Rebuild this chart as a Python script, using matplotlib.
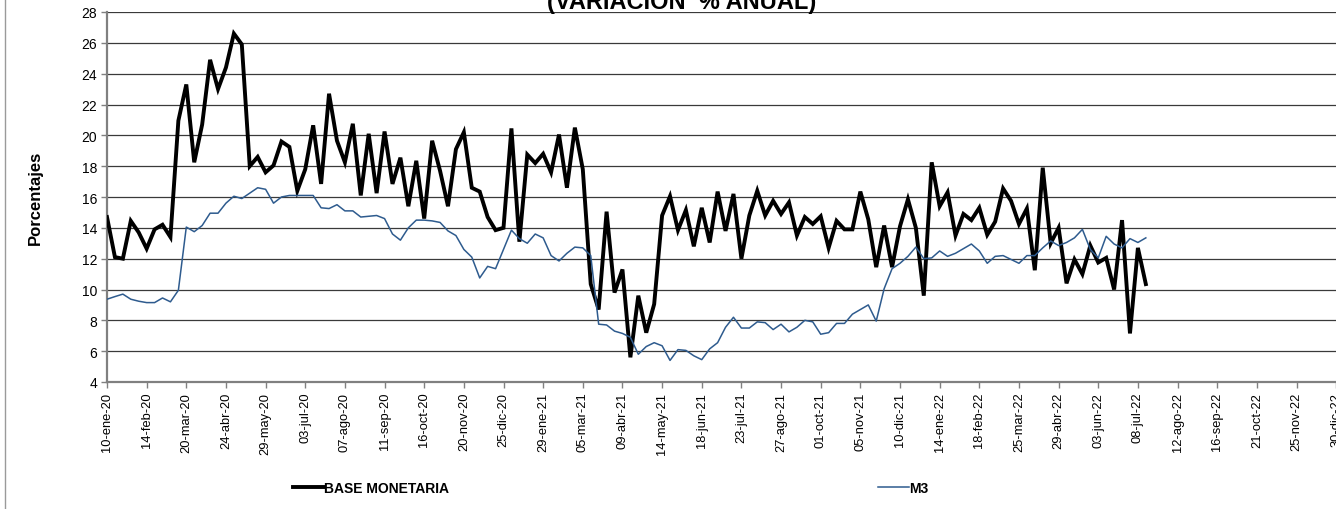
import matplotlib
matplotlib.use("Agg")
import matplotlib.pyplot as plt
import numpy as np
from matplotlib.lines import Line2D

plt.rcParams['font.family'] = ['Liberation Sans', 'DejaVu Sans']

tick_labels = ["10-ene-20", "14-feb-20", "20-mar-20", "24-abr-20", "29-may-20", "03-jul-20",
               "07-ago-20", "11-sep-20", "16-oct-20", "20-nov-20", "25-dic-20", "29-ene-21",
               "05-mar-21", "09-abr-21", "14-may-21", "18-jun-21", "23-jul-21", "27-ago-21",
               "01-oct-21", "05-nov-21", "10-dic-21", "14-ene-22", "18-feb-22", "25-mar-22",
               "29-abr-22", "03-jun-22", "08-jul-22", "12-ago-22", "16-sep-22", "21-oct-22",
               "25-nov-22", "30-dic-22"]

base_monetaria = [
    14.7, 12.1, 12.0, 14.45, 13.7, 12.65, 13.9, 14.2, 13.4, 20.95,
    23.3, 18.25, 20.7, 24.9, 23.0, 24.4, 26.6, 25.9, 18.0, 18.6,
    17.6, 18.05, 19.6, 19.25, 16.4, 17.8, 20.65, 16.85, 22.7, 19.65,
    18.25, 20.75, 16.1, 20.1, 16.25, 20.25, 16.85, 18.55, 15.4, 18.35,
    14.6, 19.65, 17.7, 15.4, 19.1, 20.2, 16.6, 16.35, 14.7, 13.85,
    14.0, 20.45, 13.1, 18.75, 18.2, 18.8, 17.6, 20.05, 16.6, 20.5,
    17.8, 10.35, 8.7, 15.05, 9.8, 11.3, 5.6, 9.6, 7.2, 9.05,
    14.8, 16.05, 13.85, 15.15, 12.8, 15.3, 13.05, 16.35, 13.8, 16.2,
    12.0, 14.8, 16.4, 14.8, 15.75, 14.9, 15.65, 13.5, 14.7, 14.25,
    14.75, 12.7, 14.45, 13.9, 13.9, 16.35, 14.55, 11.45, 14.15, 11.45,
    14.1, 15.85, 14.0, 9.6, 18.25, 15.4, 16.3, 13.5, 14.9, 14.5,
    15.3, 13.55, 14.4, 16.55, 15.75, 14.25, 15.25, 11.25, 17.9, 13.0,
    14.0, 10.4, 11.95, 11.0, 12.85, 11.75, 12.05, 10.0, 14.5, 7.15,
    12.7, 10.35]

m3 = [
    9.37, 9.54, 9.7, 9.37, 9.24, 9.15, 9.15, 9.45, 9.2, 9.95,
    14.05, 13.75, 14.15, 14.95, 14.95, 15.6, 16.05, 15.9, 16.25, 16.6,
    16.5, 15.6, 16.0, 16.1, 16.1, 16.1, 16.1, 15.3, 15.25, 15.5,
    15.1, 15.1, 14.7, 14.75, 14.8, 14.6, 13.6, 13.2, 14.0, 14.5,
    14.5, 14.45, 14.35, 13.8, 13.5, 12.6, 12.1, 10.75, 11.5, 11.35,
    12.6, 13.85, 13.3, 13.0, 13.6, 13.35, 12.2, 11.85, 12.35, 12.75,
    12.7, 12.2, 7.75, 7.7, 7.3, 7.15, 6.9, 5.8, 6.3, 6.55,
    6.35, 5.4, 6.1, 6.05, 5.7, 5.45, 6.15, 6.55, 7.55, 8.2,
    7.5, 7.5, 7.9, 7.85, 7.4, 7.75, 7.25, 7.55, 8.0, 7.9,
    7.1, 7.2, 7.8, 7.8, 8.4, 8.7, 9.0, 7.95, 10.05, 11.35,
    11.7, 12.15, 12.75, 12.0, 12.05, 12.5, 12.15, 12.35, 12.65, 12.95,
    12.5, 11.7, 12.15, 12.2, 11.95, 11.7, 12.2, 12.2, 12.7, 13.15,
    12.85, 13.05, 13.35, 13.9, 12.6, 12.05, 13.45, 12.95, 12.7, 13.3,
    13.05, 13.35]

W, H = 1336, 510
fig = plt.figure(figsize=(W / 100, H / 100), dpi=100)
fig.patch.set_facecolor('white')

left_px, top_px, bottom_px = 107, 13, 383
n_weeks_axis = 157
px_per_week = 7.93
ax = fig.add_axes([left_px / W, 1 - bottom_px / H,
                   n_weeks_axis * px_per_week / W, (bottom_px - top_px) / H])

x = np.arange(len(base_monetaria))
ax.plot(x, base_monetaria, color='black', lw=2.8, solid_joinstyle='miter', zorder=3)
ax.plot(np.arange(len(m3)), m3, color='#2E5B8E', lw=1.1, zorder=3)

ax.set_xlim(0, n_weeks_axis)
ax.set_ylim(4, 28)
ax.set_yticks(np.arange(4, 29, 2))
ax.set_xticks(np.arange(0, 5 * len(tick_labels), 5))
ax.set_xticklabels(tick_labels, rotation=90, fontsize=9.3)
ax.tick_params(axis='y', labelsize=10, length=4, width=1, color='#808080', pad=3)
ax.tick_params(axis='x', length=4, width=1, color='#808080', pad=3)
ax.grid(axis='y', color='#3a3a3a', lw=0.9)
ax.set_axisbelow(True)
for s in ['top', 'right']:
    ax.spines[s].set_visible(False)
for s in ['left', 'bottom']:
    ax.spines[s].set_color('#808080')
    ax.spines[s].set_linewidth(1.6)

fig.text(35 / W, 1 - 198 / H, 'Porcentajes', rotation=90, ha='center', va='center',
         fontsize=12, fontweight='bold')

fig.text(682 / W, 1 - 9.5 / H, '(VARIACIÓN  % ANUAL)', ha='center', va='baseline',
         fontsize=17, fontweight='bold')

# chart-area left border
fig.add_artist(Line2D([5 / W, 5 / W], [0, 1], transform=fig.transFigure,
                      color='#9a9a9a', lw=1))

leg_font = {'weight': 'bold', 'size': 10}
h1 = Line2D([], [], color='black', lw=2.8)
h2 = Line2D([], [], color='#2E5B8E', lw=1.1)
l1 = fig.legend([h1], ['BASE MONETARIA'], loc='center left',
                bbox_to_anchor=(293 / W, 1 - 489 / H), frameon=False, prop=leg_font,
                handlelength=2.2, handletextpad=0.05, borderpad=0, borderaxespad=0)
l2 = fig.legend([h2], ['M3'], loc='center left',
                bbox_to_anchor=(878 / W, 1 - 489 / H), frameon=False, prop=leg_font,
                handlelength=2.2, handletextpad=0.05, borderpad=0, borderaxespad=0)

fig.savefig('out.png', dpi=100)
